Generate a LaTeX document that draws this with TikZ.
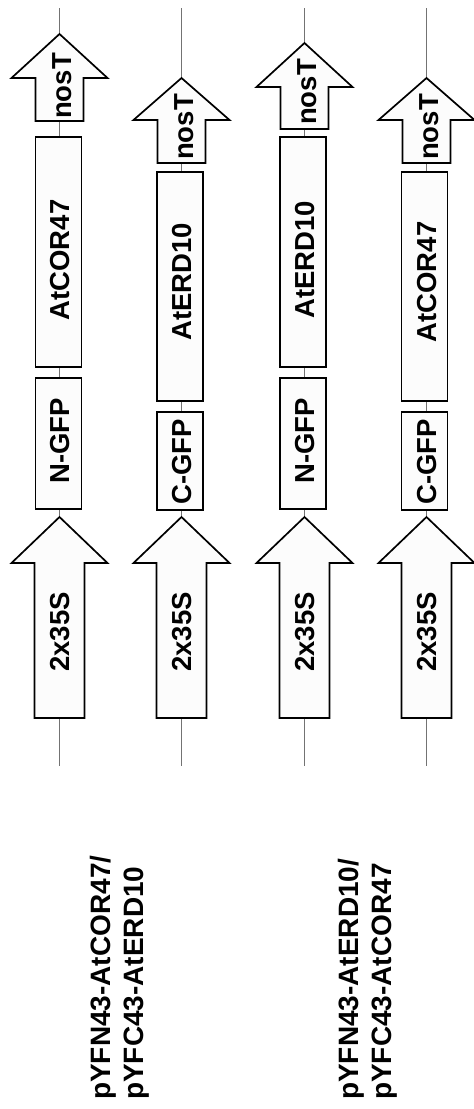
\documentclass[tikz,border=0pt]{standalone}
\usepackage{fontspec}
\setmainfont{Liberation Sans}
\begin{document}
\begin{tikzpicture}[x=1pt,y=-1pt,
    part/.style={draw=black, line width=1.7pt, fill=white!99!black, line join=miter},
    backbone/.style={draw=black!55, line width=0.9pt},
    genebox/.style={part, rectangle, minimum width=46, inner sep=0pt},
    lbl/.style={rotate=90, inner sep=0pt, font=\bfseries\fontsize{27.5}{27.5}\selectfont},
    title/.style={rotate=90, inner sep=0pt, align=left, anchor=north west, font=\bfseries\fontsize{28}{33}\selectfont}]
    \useasboundingbox (0,0) rectangle (474,1109);

    % backbone of each construct
    \coordinate (top1) at (59.5,8);   \coordinate (bot1) at (59.5,766);
    \coordinate (top2) at (181.5,8);  \coordinate (bot2) at (181.5,766);
    \coordinate (top3) at (304.5,8);  \coordinate (bot3) at (304.5,766);
    \coordinate (top4) at (426.5,8);  \coordinate (bot4) at (426.5,766);
    \draw[backbone] (top1) -- (bot1);
    \draw[backbone] (top2) -- (bot2);
    \draw[backbone] (top3) -- (bot3);
    \draw[backbone] (top4) -- (bot4);

    % 2x35S promoters
    \draw[part] (59.5,517) -- ++(48,46) -- ++(-23,0) -- ++(0,155) -- ++(-50,0) -- ++(0,-155) -- ++(-23,0) -- cycle;
    \draw[part] (181.5,517) -- ++(48,46) -- ++(-23,0) -- ++(0,155) -- ++(-50,0) -- ++(0,-155) -- ++(-23,0) -- cycle;
    \draw[part] (304.5,517) -- ++(48,46) -- ++(-23,0) -- ++(0,155) -- ++(-50,0) -- ++(0,-155) -- ++(-23,0) -- cycle;
    \draw[part] (426.5,517) -- ++(48,46) -- ++(-23,0) -- ++(0,155) -- ++(-50,0) -- ++(0,-155) -- ++(-23,0) -- cycle;
    \node[lbl] (pro1) at (60.5,632) {2x35S};
    \node[lbl] (pro2) at (182.5,632) {2x35S};
    \node[lbl] (pro3) at (305.5,632) {2x35S};
    \node[lbl] (pro4) at (427.5,632) {2x35S};

    % GFP halves
    \node[genebox, minimum height=131] (gfp1) at (58.5,443.5) {};
    \node[genebox, minimum height=98]  (gfp2) at (180,461) {};
    \node[genebox, minimum height=131] (gfp3) at (303,443.5) {};
    \node[genebox, minimum height=98]  (gfp4) at (424.5,461) {};
    \node[lbl] (gfp1txt) at (60,441) {N-GFP};
    \node[lbl] (gfp2txt) at (182,462) {C-GFP};
    \node[lbl] (gfp3txt) at (305,441) {N-GFP};
    \node[lbl] (gfp4txt) at (427,462) {C-GFP};

    % genes
    \node[genebox, minimum height=230] (gene1) at (58.5,252) {};
    \node[genebox, minimum height=229] (gene2) at (180,286.5) {};
    \node[genebox, minimum height=230] (gene3) at (303,252) {};
    \node[genebox, minimum height=229] (gene4) at (424.5,286.5) {};
    \node[lbl] (gene1txt) at (60.5,260) {AtCOR47};
    \node[lbl] (gene2txt) at (182,282) {AtERD10};
    \node[lbl] (gene3txt) at (305,260) {AtERD10};
    \node[lbl] (gene4txt) at (427,282) {AtCOR47};

    % terminators
    \draw[part] (59.5,34) -- ++(48,44) -- ++(-24,0) -- ++(0,43) -- ++(-48,0) -- ++(0,-43) -- ++(-24,0) -- cycle;
    \draw[part] (181.5,78) -- ++(48,42) -- ++(-24,0) -- ++(0,43) -- ++(-48,0) -- ++(0,-43) -- ++(-24,0) -- cycle;
    \draw[part] (304.5,43) -- ++(48,44) -- ++(-24,0) -- ++(0,42) -- ++(-48,0) -- ++(0,-42) -- ++(-24,0) -- cycle;
    \draw[part] (426.5,78) -- ++(48,42) -- ++(-24,0) -- ++(0,43) -- ++(-48,0) -- ++(0,-43) -- ++(-24,0) -- cycle;
    \node[lbl] (ter1) at (62,86) {nosT};
    \node[lbl] (ter2) at (184,127) {nosT};
    \node[lbl] (ter3) at (307,92) {nosT};
    \node[lbl] (ter4) at (429,127) {nosT};

    % construct names
    \node[title] (name1) at (90,1100) {pYFN43-AtCOR47/\\pYFC43-AtERD10};
    \node[title] (name2) at (338,1100) {pYFN43-AtERD10/\\pYFC43-AtCOR47};
\end{tikzpicture}
\end{document}
